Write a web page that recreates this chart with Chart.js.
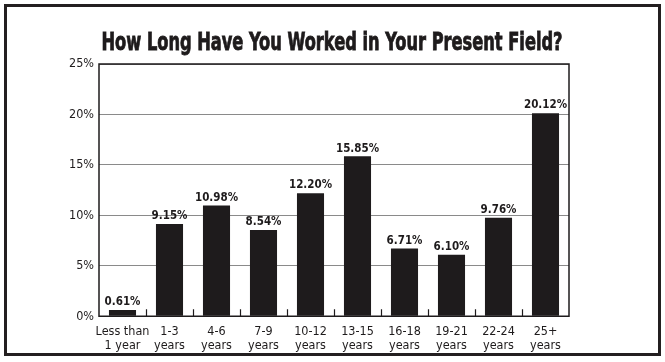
<!DOCTYPE html>
<html>
<head>
<meta charset="utf-8">
<script src="https://cdn.jsdelivr.net/npm/chart.js@4/dist/chart.umd.min.js"></script>
<style>
  body { margin: 0; background: #fff; }
  #wrap { position: relative; width: 665px; height: 362px; }
  #frame { position: absolute; left: 4px; top: 4px; width: 651px; height: 346px; border: 3px solid #231f20; pointer-events: none; }
</style>
</head>
<body>
<div id="wrap">
  <canvas id="myChart" width="665" height="362"></canvas>
  <div id="frame"></div>
</div>
<script>
'use strict';
const chartTitle = 'How Long Have You Worked in Your Present Field?';
const categories = [['Less than', '1 year'], ['1-3', 'years'], ['4-6', 'years'], ['7-9', 'years'],
  ['10-12', 'years'], ['13-15', 'years'], ['16-18', 'years'], ['19-21', 'years'],
  ['22-24', 'years'], ['25+', 'years']];
const percents = [0.61, 9.15, 10.98, 8.54, 12.20, 15.85, 6.71, 6.10, 9.76, 20.12];
const yTicks = [0, 5, 10, 15, 20, 25];

const narrow = '"Liberation Sans Narrow", "DejaVu Sans Condensed", sans-serif';

// title, value labels, plot box and the small inner ticks between categories
const extras = {
  id: 'extras',
  afterDatasetsDraw(chart) {
    const ctx = chart.ctx;
    const area = chart.chartArea;
    const x = chart.scales.x;
    ctx.save();
    ctx.strokeStyle = '#1e1b1c';
    ctx.lineWidth = 1.5;
    ctx.strokeRect(area.left, area.top, area.right - area.left, area.bottom - area.top);
    ctx.lineWidth = 1.2;
    for (let i = 0; i < categories.length - 1; i++) {
      const px = Math.round((x.getPixelForValue(i) + x.getPixelForValue(i + 1)) / 2) + 0.5;
      ctx.beginPath();
      ctx.moveTo(px, area.bottom);
      ctx.lineTo(px, area.bottom - 7);
      ctx.stroke();
    }
    ctx.fillStyle = '#1e1b1c';
    ctx.font = 'bold 11.5px ' + narrow;
    ctx.textAlign = 'center';
    ctx.textBaseline = 'bottom';
    chart.getDatasetMeta(0).data.forEach((bar, i) => {
      ctx.fillText(percents[i].toFixed(2) + '%', bar.x, bar.y - 2);
    });

    // condensed heavy title
    ctx.font = 'bold 24px ' + narrow;
    ctx.textAlign = 'center';
    ctx.textBaseline = 'alphabetic';
    const w = ctx.measureText(chartTitle).width;
    ctx.translate(332, 50);
    ctx.scale(461 / w, 1);
    ctx.lineWidth = 0.8;
    ctx.fillText(chartTitle, 0, 0);
    ctx.strokeText(chartTitle, 0, 0);
    ctx.restore();
  }
};

const ctx = document.getElementById('myChart').getContext('2d');
const myChart = new Chart(ctx, {
  type: 'bar',
  data: {
    labels: categories,
    datasets: [{
      data: percents,
      backgroundColor: '#1e1b1c',
      barPercentage: 0.8,
      categoryPercentage: 0.72
    }]
  },
  options: {
    responsive: false,
    animation: false,
    layout: { padding: { left: 0, right: 96, top: 64, bottom: 9 } },
    plugins: {
      legend: { display: false },
      tooltip: { enabled: false },
      title: { display: false }
    },
    scales: {
      x: {
        grid: { display: false },
        border: { display: false },
        ticks: {
          color: '#1e1b1c',
          font: { family: narrow, size: 12.5, lineHeight: 1.15 },
          maxRotation: 0,
          autoSkip: false,
          padding: 0
        }
      },
      y: {
        min: 0,
        max: 25,
        afterFit(scale) { scale.width = 99; },
        afterBuildTicks(scale) { scale.ticks = yTicks.map(v => ({ value: v })); },
        grid: { color: '#8a8a8a', lineWidth: 1, drawTicks: false },
        border: { display: false },
        ticks: {
          color: '#1e1b1c',
          font: { family: narrow, size: 12.5 },
          padding: 5,
          callback: v => v + '%'
        }
      }
    }
  },
  plugins: [extras]
});
</script>
</body>
</html>
